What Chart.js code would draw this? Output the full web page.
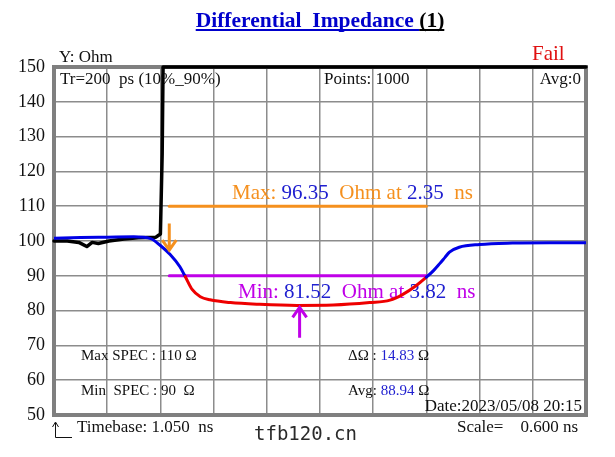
<!DOCTYPE html>
<html>
<head>
<meta charset="utf-8">
<title>Differential Impedance</title>
<script src="https://cdn.jsdelivr.net/npm/chart.js@4.4.1/dist/chart.umd.min.js"></script>
<style>
  html, body { margin: 0; padding: 0; background: #fff; }
  canvas { display: block; }
</style>
</head>
<body>
<canvas id="tdr-chart" width="615" height="457"></canvas>
<script>
// measured trace (ns / ohm)
const tdrTime = [1.05, 1.35, 1.65, 1.95, 2.14, 2.25, 2.36, 2.47, 2.53, 2.61, 2.70, 2.81, 3.04, 3.37, 3.79,
  4.20, 4.61, 4.84, 4.98, 5.14, 5.25, 5.33, 5.40, 5.46, 5.51, 5.62, 5.85, 6.22, 6.64, 7.05];
const tdrOhm = [100.8, 101.0, 101.1, 101.2, 100.7, 98.7, 96.1, 92.6, 89.8, 86.0, 84.0, 83.1, 82.3, 81.8, 81.5,
  81.6, 82.3, 83.0, 84.6, 87.3, 89.6, 91.5, 93.5, 95.3, 96.8, 98.2, 99.0, 99.4, 99.5, 99.5];

// raw channel that fails (goes off the top)
const rawTime = [1.05, 1.20, 1.33, 1.42, 1.48, 1.55, 1.67, 1.84, 2.00, 2.20, 2.25, 2.27, 2.28, 7.05];
const rawOhm = [100.0, 100.0, 99.6, 98.4, 99.6, 99.3, 100.0, 100.6, 100.9, 101.1, 102.0, 125.0, 150.0, 150.0];

// spec window
const specTime = [2.35, 5.25];
const maxSpec = 110;
const minSpec = 90;

// markers
const maxAt = 2.35, maxVal = 96.35;
const minAt = 3.82, minVal = 81.52;

// axis
const xGrid = [1.05, 1.65, 2.25, 2.85, 3.45, 4.05, 4.65, 5.25, 5.85, 6.45, 7.05];
const yTicks = [50, 60, 70, 80, 90, 100, 110, 120, 130, 140, 150];

const BLUE = "#0000e6";
const RED = "#ee0000";
const ORANGE = "#f5901e";
const PURPLE = "#c000e8";
const TXT_BLUE = "#2020d0";
const GRID = "#8c8c8c";
const SERIF = "'Liberation Serif', 'Times New Roman', serif";

const toPoints = (xs, ys) => xs.map((x, i) => ({ x: x, y: ys[i] }));

const drawRuns = (ctx, x, y, runs, font) => {
  ctx.font = font;
  runs.forEach(([text, color]) => {
    ctx.fillStyle = color;
    ctx.fillText(text, x, y);
    x += ctx.measureText(text).width;
  });
};

const drawArrow = (ctx, x, yFrom, yTo, color) => {
  const dir = yTo > yFrom ? 1 : -1;
  ctx.save();
  ctx.strokeStyle = color;
  ctx.lineWidth = 3;
  ctx.beginPath();
  ctx.moveTo(x, yFrom);
  ctx.lineTo(x, yTo);
  ctx.moveTo(x - 7, yTo - dir * 10);
  ctx.lineTo(x, yTo);
  ctx.lineTo(x + 7, yTo - dir * 10);
  ctx.stroke();
  ctx.restore();
};

const frameAndText = {
  id: "frameAndText",
  beforeDatasetsDraw(chart) {
    const { ctx, chartArea: a } = chart;
    ctx.save();
    ctx.strokeStyle = "#7f7f7f";
    ctx.lineWidth = 4;
    ctx.strokeRect(a.left, a.top, a.right - a.left, a.bottom - a.top);

    ctx.textBaseline = "middle";
    ctx.textAlign = "left";
    const f17 = "17px " + SERIF;
    const f15 = "15px " + SERIF;
    drawRuns(ctx, 60, 80, [["Tr=200  ps (10%_90%)", "#111"]], f17);
    drawRuns(ctx, 324, 80, [["Points: 1000", "#111"]], f17);
    ctx.textAlign = "right";
    ctx.fillText("Avg:0", 581, 80);
    ctx.textAlign = "left";

    const f21 = "21px " + SERIF;
    drawRuns(ctx, 232, 193, [["Max: ", ORANGE], ["96.35", TXT_BLUE], ["  Ohm at ", ORANGE], ["2.35", TXT_BLUE], ["  ns", ORANGE]], f21);
    drawRuns(ctx, 238, 292, [["Min: ", PURPLE], ["81.52", TXT_BLUE], ["  Ohm at ", PURPLE], ["3.82", TXT_BLUE], ["  ns", PURPLE]], f21);

    drawRuns(ctx, 81, 356, [["Max SPEC : 110 \u03a9", "#111"]], f15);
    drawRuns(ctx, 81, 391, [["Min  SPEC : 90  \u03a9", "#111"]], f15);
    drawRuns(ctx, 348, 356, [["\u0394\u03a9 : ", "#111"], ["14.83", TXT_BLUE], [" \u03a9", "#111"]], f15);
    drawRuns(ctx, 348, 391, [["Avg: ", "#111"], ["88.94", TXT_BLUE], [" \u03a9", "#111"]], f15);
    ctx.font = f17;
    ctx.textAlign = "right";
    ctx.fillStyle = "#111";
    ctx.fillText("Date:2023/05/08 20:15", 582, 407);
    ctx.restore();
  },
  afterDatasetsDraw(chart) {
    const { ctx, scales: { x, y } } = chart;
    drawArrow(ctx, x.getPixelForValue(maxAt), y.getPixelForValue(105), y.getPixelForValue(maxVal + 1), ORANGE);
    drawArrow(ctx, x.getPixelForValue(minAt), y.getPixelForValue(72.2), y.getPixelForValue(minVal - 0.6), PURPLE);
  },
  afterDraw(chart) {
    const { ctx } = chart;
    ctx.save();
    ctx.textBaseline = "alphabetic";
    ctx.textAlign = "left";

    // title
    ctx.font = "bold 21.5px " + SERIF;
    const t1 = "Differential  Impedance ";
    const t2 = "(1)";
    const w1 = ctx.measureText(t1).width;
    const w2 = ctx.measureText(t2).width;
    const tx = 320 - (w1 + w2) / 2;
    ctx.fillStyle = "#0000cc";
    ctx.fillText(t1, tx, 27);
    ctx.fillStyle = "#000";
    ctx.fillText(t2, tx + w1, 27);
    ctx.fillStyle = "#0000cc";
    ctx.fillRect(tx, 29, w1, 2);
    ctx.fillStyle = "#000";
    ctx.fillRect(tx + w1, 29, w2, 2);

    ctx.textBaseline = "middle";
    ctx.font = "17px " + SERIF;
    ctx.fillStyle = "#111";
    ctx.fillText("Y: Ohm", 59, 58);
    ctx.font = "21px " + SERIF;
    ctx.fillStyle = "#e01010";
    ctx.fillText("Fail", 532, 54);

    ctx.font = "17px " + SERIF;
    ctx.fillStyle = "#111";
    ctx.fillText("Timebase: 1.050  ns", 77, 428);
    ctx.fillText("Scale=    0.600 ns", 457, 428);

    ctx.font = "19px 'DejaVu Sans Mono', monospace";
    ctx.fillStyle = "#2a2a2a";
    ctx.fillText("tfb120.cn", 254, 435);

    // little origin marker
    ctx.strokeStyle = "#111";
    ctx.lineWidth = 1;
    ctx.beginPath();
    ctx.moveTo(55.5, 423);
    ctx.lineTo(55.5, 437.5);
    ctx.lineTo(72, 437.5);
    ctx.moveTo(52.5, 427);
    ctx.lineTo(55.5, 422);
    ctx.lineTo(58.5, 427);
    ctx.stroke();
    ctx.restore();
  },
};

const config = {
  type: "line",
  data: {
    datasets: [
      {
        label: "Differential",
        data: toPoints(tdrTime, tdrOhm),
        borderColor: BLUE,
        borderWidth: 3,
        cubicInterpolationMode: "monotone",
        segment: {
          borderColor: (c) => (c.p0.parsed.y <= minSpec && c.p1.parsed.y <= minSpec ? RED : BLUE),
        },
      },
      {
        label: "Raw",
        data: toPoints(rawTime, rawOhm),
        borderColor: "#000",
        borderWidth: 3.5,
        tension: 0,
        clip: 4,
      },
      {
        label: "Max spec",
        data: toPoints(specTime, [maxSpec, maxSpec]),
        borderColor: ORANGE,
        borderWidth: 3,
      },
      {
        label: "Min spec",
        data: toPoints(specTime, [minSpec, minSpec]),
        borderColor: PURPLE,
        borderWidth: 3,
      },
    ],
  },
  options: {
    responsive: false,
    animation: false,
    parsing: false,
    elements: { point: { radius: 0 }, line: { borderCapStyle: "round", borderJoinStyle: "round" } },
    layout: { padding: { left: 0, right: 29, top: 67, bottom: 42 } },
    plugins: { legend: { display: false }, tooltip: { enabled: false } },
    scales: {
      x: {
        type: "linear",
        min: 1.05,
        max: 7.05,
        afterBuildTicks: (s) => { s.ticks = xGrid.map((v) => ({ value: v })); },
        afterFit: (s) => { s.height = 0; },
        ticks: { display: false },
        grid: { color: GRID, lineWidth: 1.5, drawTicks: false },
        border: { display: false },
      },
      y: {
        min: 50,
        max: 150,
        afterBuildTicks: (s) => { s.ticks = yTicks.map((v) => ({ value: v })); },
        afterFit: (s) => { s.width = 54; },
        ticks: { color: "#111", font: { family: SERIF, size: 18 }, padding: 9 },
        grid: { color: GRID, lineWidth: 1.5, drawTicks: false },
        border: { display: false },
      },
    },
  },
  plugins: [frameAndText],
};

new Chart(document.getElementById("tdr-chart"), config);
</script>
</body>
</html>
